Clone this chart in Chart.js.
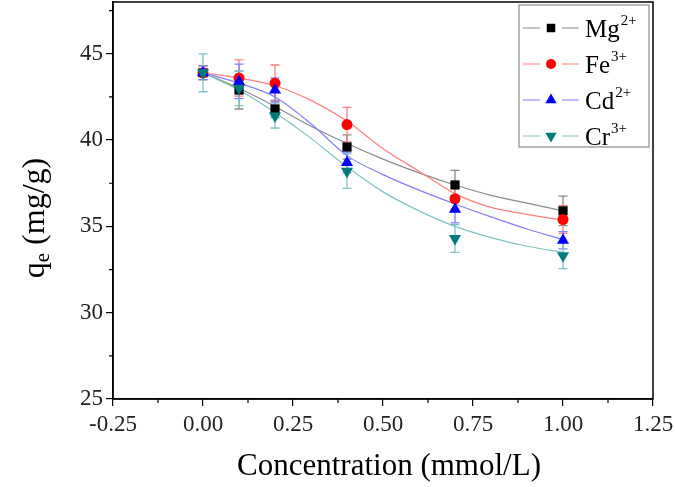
<!DOCTYPE html>
<html>
<head>
<meta charset="utf-8">
<script src="https://cdn.jsdelivr.net/npm/chart.js@4/dist/chart.umd.min.js"></script>
<style>
html,body{margin:0;padding:0;background:#fff;}
#wrap{width:675px;height:487px;}
</style>
</head>
<body>
<div id="wrap"><canvas id="c" width="675" height="487"></canvas></div>
<script>
const concentrations = [0, 0.1, 0.2, 0.4, 0.7, 1.0];
const mgValues = [43.9, 42.9, 41.8, 39.6, 37.4, 35.9];
const mgErrors = [0.4, 1.1, 0.5, 0.7, 0.85, 0.85];
const feValues = [43.9, 43.6, 43.3, 40.9, 36.6, 35.4];
const feErrors = [0.4, 1.05, 1.05, 1.0, 0.6, 0.8];
const cdValues = [43.9, 43.4, 42.9, 38.7, 36.0, 34.2];
const cdErrors = [0.4, 1.0, 0.7, 0.6, 0.8, 0.5];
const crValues = [43.9, 43.0, 41.4, 38.2, 34.3, 33.3];
const crErrors = [1.1, 1.0, 0.7, 1.0, 0.8, 0.75];

const fitX = [0, 0.1, 0.2, 0.3, 0.4, 0.5, 0.6, 0.7, 0.8, 0.9, 1.0];
const mgFit = [43.9, 43.0, 41.95, 40.8, 39.8, 38.9, 38.1, 37.4, 36.8, 36.35, 35.9];
const feFit = [43.9, 43.6, 43.15, 42.3, 41.1, 39.5, 38.2, 36.9, 36.1, 35.7, 35.35];
const cdFit = [43.9, 43.3, 42.5, 40.95, 39.1, 38.0, 37.1, 36.3, 35.55, 34.85, 34.24];
const crFit = [43.9, 42.9, 41.6, 40.1, 38.45, 37.0, 35.9, 35.0, 34.35, 33.85, 33.5];

const xTicks = [-0.25, 0, 0.25, 0.5, 0.75, 1.0, 1.25];
const yTicks = [25, 30, 35, 40, 45];
const ionNames = ['Mg', 'Fe', 'Cd', 'Cr'];
const ionCharges = ['2+', '3+', '2+', '3+'];

const FONT = "'Liberation Serif', 'Times New Roman', serif";
const series = [
  {vals: mgValues, errs: mgErrors, fit: mgFit, marker: '#000000', line: '#8a8a8a', style: 'rect', rot: 0, r: 6.5},
  {vals: feValues, errs: feErrors, fit: feFit, marker: '#ff0000', line: '#ff8080', style: 'circle', rot: 0, r: 5.5},
  {vals: cdValues, errs: cdErrors, fit: cdFit, marker: '#0000ff', line: '#8080ff', style: 'triangle', rot: 0, r: 7},
  {vals: crValues, errs: crErrors, fit: crFit, marker: '#007b7b', line: '#7fc4c4', style: 'triangle', rot: 180, r: 7}
];

const datasets = [];
series.forEach((s, i) => {
  datasets.push({
    label: 'fit' + i,
    data: fitX.map((x, k) => ({x: x, y: s.fit[k]})),
    showLine: true,
    borderColor: s.line, borderWidth: 1.2, pointRadius: 0, pointHoverRadius: 0,
    cubicInterpolationMode: 'monotone', fill: false, order: 10 - i
  });
});
series.forEach((s, i) => {
  datasets.push({
    label: ionNames[i],
    data: concentrations.map((x, k) => ({x: x, y: s.vals[k]})),
    showLine: false, pointStyle: s.style, rotation: s.rot,
    pointRadius: s.r, pointBackgroundColor: s.marker, pointBorderColor: s.marker,
    pointBorderWidth: 0, errs: s.errs, errColor: s.line, order: 4 - i
  });
});

const errorBars = {
  id: 'errorBars',
  beforeDatasetsDraw(chart) {
    const ctx = chart.ctx, xs = chart.scales.x, ys = chart.scales.y;
    ctx.save();
    chart.data.datasets.forEach(ds => {
      if (!ds.errs) return;
      ctx.strokeStyle = ds.errColor; ctx.lineWidth = 1.3;
      ds.data.forEach((p, k) => {
        const px = xs.getPixelForValue(p.x);
        const y1 = ys.getPixelForValue(p.y + ds.errs[k]);
        const y2 = ys.getPixelForValue(p.y - ds.errs[k]);
        ctx.beginPath();
        ctx.moveTo(px, y1); ctx.lineTo(px, y2);
        ctx.moveTo(px - 4.5, y1); ctx.lineTo(px + 4.5, y1);
        ctx.moveTo(px - 4.5, y2); ctx.lineTo(px + 4.5, y2);
        ctx.stroke();
      });
    });
    ctx.restore();
  }
};

const frame = {
  id: 'frame',
  afterDraw(chart) {
    const ctx = chart.ctx, a = chart.chartArea, xs = chart.scales.x, ys = chart.scales.y;
    ctx.save();
    ctx.strokeStyle = '#000'; ctx.lineWidth = 1.5;
    ctx.strokeRect(a.left, a.top, a.right - a.left, a.bottom - a.top);
    // minor ticks
    ctx.lineWidth = 1.2;
    ctx.beginPath();
    for (let i = 0; i < xTicks.length - 1; i++) {
      const px = xs.getPixelForValue((xTicks[i] + xTicks[i + 1]) / 2);
      ctx.moveTo(px, a.bottom); ctx.lineTo(px, a.bottom + 4);
    }
    for (let i = 0; i < yTicks.length; i++) {
      const py = ys.getPixelForValue(yTicks[i] + 2.5);
      if (py < a.top) continue;
      ctx.moveTo(a.left, py); ctx.lineTo(a.left - 4, py);
    }
    ctx.stroke();
    // axis titles
    ctx.fillStyle = '#000';
    ctx.font = '31px ' + FONT;
    ctx.textAlign = 'center'; ctx.textBaseline = 'alphabetic';
    ctx.fillText('Concentration (mmol/L)', (a.left + a.right) / 2 + 6, 475);
    // y title with subscript
    ctx.translate(44, 218);
    ctx.rotate(-Math.PI / 2);
    const big = '32px ' + FONT, small = '21px ' + FONT;
    ctx.font = big; const wq = ctx.measureText('q').width;
    ctx.font = small; const we = ctx.measureText('e').width;
    ctx.font = big; const wr = ctx.measureText(' (mg/g)').width;
    let x0 = -(wq + we + wr) / 2;
    ctx.textAlign = 'left';
    ctx.font = big; ctx.fillText('q', x0, 0); x0 += wq;
    ctx.font = small; ctx.fillText('e', x0, 5); x0 += we;
    ctx.font = big; ctx.fillText(' (mg/g)', x0, 0);
    ctx.restore();
    // legend
    ctx.save();
    const lx = 519, ly = 5, lw = 130, lh = 142;
    ctx.strokeStyle = '#8c8c8c'; ctx.lineWidth = 1.2;
    ctx.strokeRect(lx, ly, lw, lh);
    series.forEach((s, i) => {
      const cy = ly + 23 + i * 36;
      ctx.strokeStyle = s.line; ctx.lineWidth = 1.2;
      ctx.beginPath();
      ctx.moveTo(lx + 4, cy); ctx.lineTo(lx + 21, cy);
      ctx.moveTo(lx + 43, cy); ctx.lineTo(lx + 60, cy);
      ctx.stroke();
      ctx.fillStyle = s.marker; ctx.strokeStyle = s.marker;
      Chart.helpers.drawPoint(ctx, {pointStyle: s.style, rotation: s.rot, radius: s.r - 0.5, borderWidth: 0}, lx + 32, cy);
      ctx.fillStyle = '#000';
      ctx.textAlign = 'left'; ctx.textBaseline = 'alphabetic';
      ctx.font = '25px ' + FONT;
      ctx.fillText(ionNames[i], lx + 66, cy + 9);
      const w = ctx.measureText(ionNames[i]).width;
      ctx.font = '15px ' + FONT;
      ctx.fillText(ionCharges[i], lx + 66 + w + 1, cy - 3);
    });
    ctx.restore();
  }
};

new Chart(document.getElementById('c'), {
  type: 'scatter',
  data: {datasets: datasets},
  options: {
    responsive: false, animation: false,
    layout: {autoPadding: false, padding: {top: 2, right: 22, left: 0, bottom: 0}},
    plugins: {legend: {display: false}, tooltip: {enabled: false}},
    scales: {
      x: {
        type: 'linear', min: xTicks[0], max: xTicks[xTicks.length - 1],
        afterBuildTicks: sc => { sc.ticks = xTicks.map(v => ({value: v})); },
        afterFit: sc => { sc.height = 88; sc.paddingLeft = 0; sc.paddingRight = 0; },
        grid: {display: true, drawOnChartArea: false, drawTicks: true, tickLength: 7, color: '#000', lineWidth: 1.2},
        border: {display: true, color: '#000', width: 1.5},
        ticks: {color: '#222', font: {family: FONT, size: 23}, padding: 5, maxRotation: 0,
                callback: v => Number(v).toFixed(2)}
      },
      y: {
        type: 'linear', min: 25, max: 48,
        afterBuildTicks: sc => { sc.ticks = yTicks.map(v => ({value: v})); },
        afterFit: sc => { sc.width = 113; sc.paddingTop = 0; sc.paddingBottom = 0; },
        grid: {display: true, drawOnChartArea: false, drawTicks: true, tickLength: 7, color: '#000', lineWidth: 1.2},
        border: {display: true, color: '#000', width: 1.5},
        ticks: {color: '#222', font: {family: FONT, size: 23}, padding: 3}
      }
    }
  },
  plugins: [errorBars, frame]
});
</script>
</body>
</html>
